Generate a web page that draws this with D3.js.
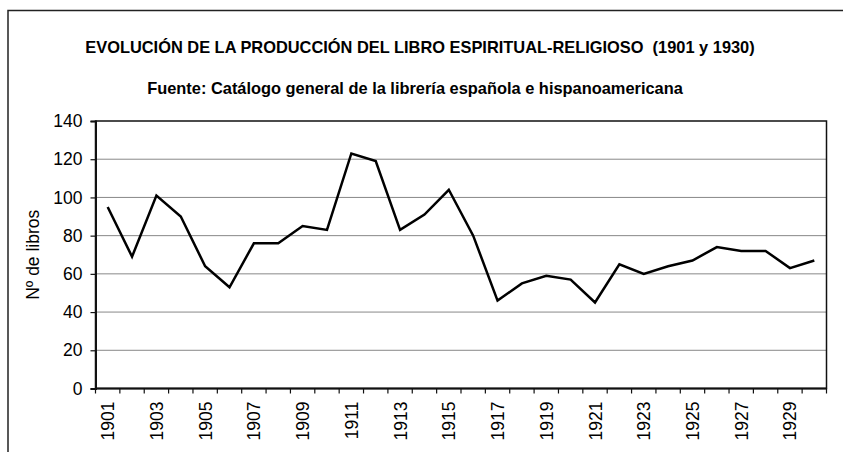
<!DOCTYPE html>
<html>
<head>
<meta charset="utf-8">
<script src="https://cdn.jsdelivr.net/npm/d3@7"></script>
<style>
	body { margin: 0; background: #fff; }
</style>
</head>
<body>
<div id="chart"></div>
<script>
// data
var years = d3.range(1901, 1931);
var libros = [95, 69, 101, 90, 64, 53, 76, 76, 85, 83,
	123, 119, 83, 91, 104, 80, 46, 55, 59, 57,
	45, 65, 60, 64, 67, 74, 72, 72, 63, 67];
var yTicks = [0, 20, 40, 60, 80, 100, 120, 140];
var titulo = "EVOLUCIÓN DE LA PRODUCCIÓN DEL LIBRO ESPIRITUAL-RELIGIOSO  (1901 y 1930)";
var subtitulo = "Fuente: Catálogo general de la librería española e hispanoamericana";
var yLabel = "Nº de libros";

var W = 843, H = 452;
var FONT = "Liberation Sans, Arial, sans-serif";
var pLeft = 95.5, pTop = 121, pRight = 826.5, pBottom = 388.5;

var svg = d3.select("#chart").append("svg")
	.attr("width", W)
	.attr("height", H)
	.attr("font-family", FONT)
	.style("display", "block");

// outer frame (only top and left visible)
svg.append("path")
	.attr("d", "M8," + H + "V10.5H" + W)
	.attr("fill", "none")
	.attr("stroke", "#222")
	.attr("stroke-width", 1.5);

svg.append("text")
	.attr("x", 420).attr("y", 53)
	.attr("text-anchor", "middle")
	.attr("font-size", 16.4).attr("font-weight", "bold")
	.style("white-space", "pre")
	.text(titulo);

svg.append("text")
	.attr("x", 415).attr("y", 94)
	.attr("text-anchor", "middle")
	.attr("font-size", 16.4).attr("font-weight", "bold")
	.text(subtitulo);

var x = d3.scaleBand().domain(years).range([pLeft, pRight]);
var y = d3.scaleLinear().domain([0, 140]).range([pBottom, pTop]);

// gridlines
svg.append("g").selectAll("line").data(yTicks.slice(1, -1))
	.enter().append("line")
	.attr("x1", pLeft).attr("x2", pRight)
	.attr("y1", function(d){ return y(d); })
	.attr("y2", function(d){ return y(d); })
	.attr("stroke", "#888")
	.attr("stroke-width", 1);

// plot frame
svg.append("rect")
	.attr("x", pLeft).attr("y", pTop)
	.attr("width", pRight - pLeft).attr("height", pBottom - pTop)
	.attr("fill", "none")
	.attr("stroke", "#111")
	.attr("stroke-width", 1.5);

// y axis
var yAxis = svg.append("g")
	.attr("transform", "translate(" + pLeft + ",0)")
	.call(d3.axisLeft(y).tickValues(yTicks).tickSize(5).tickPadding(8));
yAxis.select(".domain").attr("stroke", "#111").attr("stroke-width", 2);
yAxis.selectAll(".tick line").attr("stroke", "#111").attr("stroke-width", 1.2);
yAxis.attr("font-family", FONT).attr("font-size", 17.5);
yAxis.selectAll("text").attr("fill", "#000");

// x axis: ticks at band edges, labels on odd years
var xEdges = years.map(function(d){ return x(d); }).concat([pRight]);
var xAxis = svg.append("g").attr("transform", "translate(0," + pBottom + ")");
xAxis.append("line")
	.attr("x1", pLeft).attr("x2", pRight)
	.attr("stroke", "#111").attr("stroke-width", 2);
xAxis.selectAll("line.tk").data(xEdges)
	.enter().append("line").attr("class", "tk")
	.attr("x1", function(d){ return d; }).attr("x2", function(d){ return d; })
	.attr("y1", 0).attr("y2", 5)
	.attr("stroke", "#111").attr("stroke-width", 1.2);
xAxis.selectAll("text").data(years.filter(function(d){ return d % 2 === 1; }))
	.enter().append("text")
	.attr("transform", function(d){
		return "translate(" + (x(d) + x.bandwidth() / 2 + 6.5) + ",13) rotate(-90)";
	})
	.attr("text-anchor", "end")
	.attr("font-size", 17.5)
	.text(function(d){ return d; });

// y label
svg.append("text")
	.attr("transform", "translate(39," + ((pTop + pBottom) / 2) + ") rotate(-90)")
	.attr("text-anchor", "middle")
	.attr("font-size", 17.5)
	.text(yLabel);

// series
var line = d3.line()
	.x(function(d, i){ return x(years[i]) + x.bandwidth() / 2; })
	.y(function(d){ return y(d); });
svg.append("path")
	.datum(libros)
	.attr("d", line)
	.attr("fill", "none")
	.attr("stroke", "#000")
	.attr("stroke-width", 2.5)
	.attr("stroke-linejoin", "miter");
</script>
</body>
</html>
